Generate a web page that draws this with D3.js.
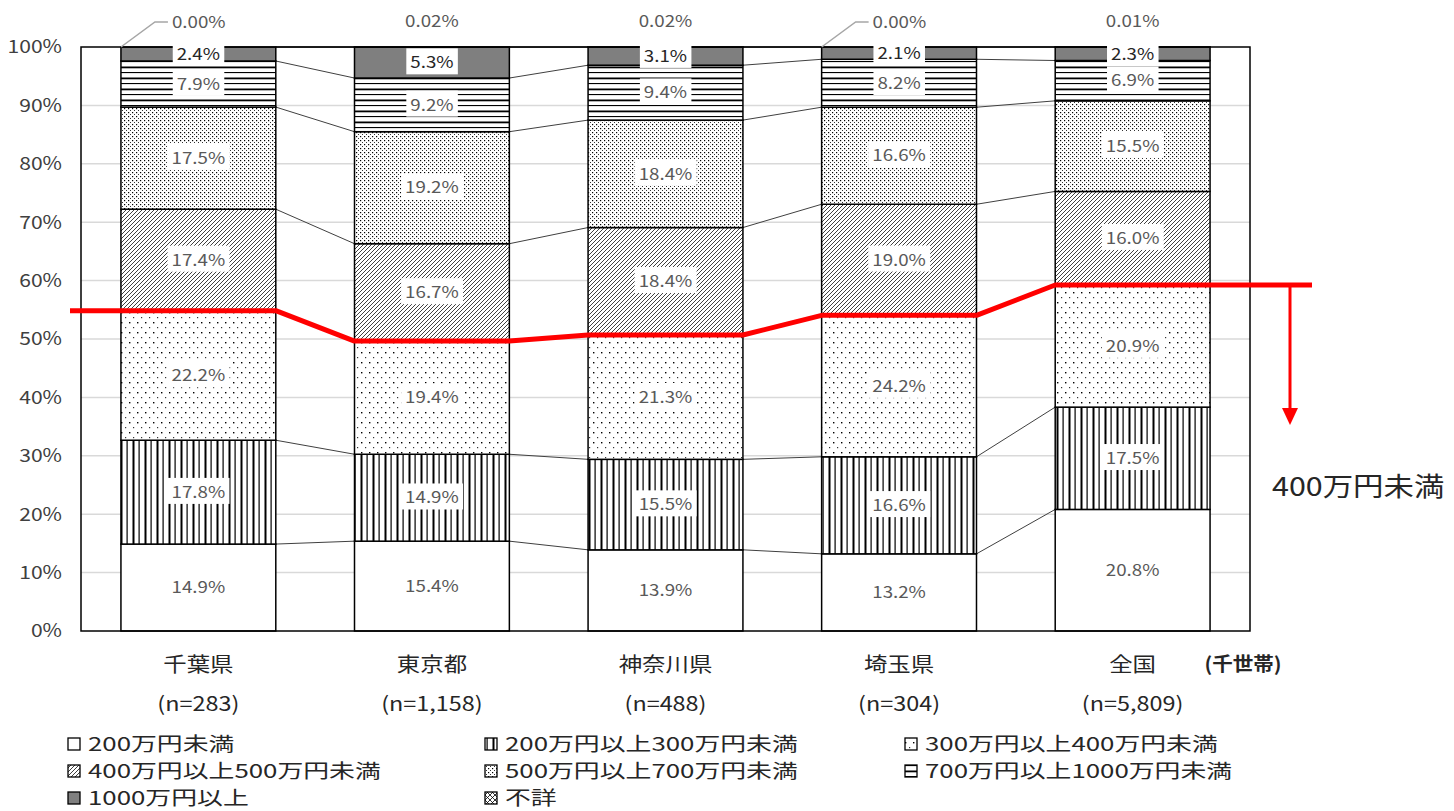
<!DOCTYPE html>
<html><head><meta charset="utf-8">
<script src="https://cdn.jsdelivr.net/npm/d3@7"></script>
<style>body{margin:0;background:#fff}svg text{font-family:"Noto Sans CJK JP","Noto Sans",sans-serif}</style>
</head><body>
<svg id="chart" width="1454" height="811"></svg>
<script>
const categories = ["千葉県","東京都","神奈川県","埼玉県","全国"];
const sampleSizes = ["(n=283)","(n=1,158)","(n=488)","(n=304)","(n=5,809)"];
const seriesNames = ["200万円未満","200万円以上300万円未満","300万円以上400万円未満","400万円以上500万円未満","500万円以上700万円未満","700万円以上1000万円未満","1000万円以上","不詳"];
const under200     = [14.9, 15.4, 13.9, 13.2, 20.8];
const from200to300 = [17.8, 14.9, 15.5, 16.6, 17.5];
const from300to400 = [22.2, 19.4, 21.3, 24.2, 20.9];
const from400to500 = [17.4, 16.7, 18.4, 19.0, 16.0];
const from500to700 = [17.5, 19.2, 18.4, 16.6, 15.5];
const from700to1000= [7.9, 9.2, 9.4, 8.2, 6.9];
const over1000     = [2.4, 5.3, 3.1, 2.1, 2.3];
const unknown      = [0.00, 0.02, 0.02, 0.00, 0.01];
const yTicks = [0,10,20,30,40,50,60,70,80,90,100];
const unitLabel = "(千世帯)";
const annotationText = "400万円未満";
const thresholdIndex = 3; // boundary below "400万円以上500万円未満"

const seriesValues = [under200, from200to300, from300to400, from400to500, from500to700, from700to1000, over1000, unknown];

const svg = d3.select("#chart");
const K = 1.17; // horizontal text stretch
function stretch(sel, k){ sel.each(function(){ const w=this.getComputedTextLength(); this.setAttribute("textLength", w*k); this.setAttribute("lengthAdjust","spacingAndGlyphs"); }); }

const x = d3.scaleBand().domain(categories).range([81,1250]).paddingInner(0.337).paddingOuter(0.171);
const y = d3.scaleLinear().domain([0,100]).range([631,47]);

// patterns
const defs = svg.append("defs");
function pat(id,w,h,draw){ const p=defs.append("pattern").attr("id",id).attr("patternUnits","userSpaceOnUse").attr("width",w).attr("height",h); p.append("rect").attr("width",w).attr("height",h).attr("fill","#fff"); draw(p); }
pat("pVert",12,12,p=>{ p.append("rect").attr("x",0.5).attr("y",0).attr("width",2).attr("height",12).attr("fill","#000"); p.append("rect").attr("x",6.5).attr("y",0).attr("width",1.2).attr("height",12).attr("fill","#000"); });
pat("pSparse",8,10,p=>{ p.append("rect").attr("x",1).attr("y",2).attr("width",1.4).attr("height",1.4).attr("fill","#000"); p.append("rect").attr("x",5).attr("y",7).attr("width",1.2).attr("height",1.2).attr("fill","#333"); });
pat("pDiag",4,4,p=>{ p.append("path").attr("d","M-1,1 L1,-1 M0,4 L4,0 M3,5 L5,3").attr("stroke","#000").attr("stroke-width",0.75); });
pat("pDense",4,4,p=>{ p.append("rect").attr("x",0).attr("y",0).attr("width",1.2).attr("height",1.2).attr("fill","#000"); p.append("rect").attr("x",2).attr("y",2).attr("width",1).attr("height",1).attr("fill","#333"); });
pat("pHoriz",12,11,p=>{ p.append("rect").attr("x",0).attr("y",0.5).attr("width",12).attr("height",1.8).attr("fill","#000"); p.append("rect").attr("x",0).attr("y",6).attr("width",12).attr("height",1.1).attr("fill","#000"); });
pat("pCross",5,5,p=>{ p.append("path").attr("d","M0,0 L5,5 M5,0 L0,5").attr("stroke","#000").attr("stroke-width",0.8); });
const fills = ["#fff","url(#pVert)","url(#pSparse)","url(#pDiag)","url(#pDense)","url(#pHoriz)","#7f7f7f","url(#pCross)"];

// gridlines
svg.append("g").selectAll("line").data(yTicks.filter(t=>t>0&&t<100)).join("line")
  .attr("x1",81).attr("x2",1250).attr("y1",d=>y(d)).attr("y2",d=>y(d)).attr("stroke","#d9d9d9").attr("stroke-width",1.5);

// stacked data (normalized like a 100% stacked chart)
const table = categories.map((c,i)=>{ const o={cat:c}; seriesNames.forEach((s,j)=>o[s]=seriesValues[j][i]); return o; });
const totals = categories.map((c,i)=>d3.sum(seriesValues,v=>v[i]));
const normTable = table.map((r,i)=>{ const o={cat:r.cat}; seriesNames.forEach(s=>o[s]=r[s]/totals[i]*100); return o; });
const stack = d3.stack().keys(seriesNames)(normTable);

// series lines
const serG = svg.append("g");
stack.forEach(layer=>{
  for(let i=0;i<categories.length-1;i++){
    serG.append("line").attr("x1",x(categories[i])+x.bandwidth()).attr("x2",x(categories[i+1]))
      .attr("y1",y(layer[i][1])).attr("y2",y(layer[i+1][1])).attr("stroke","#404040").attr("stroke-width",1);
  }
});

// bars
const barG = svg.append("g");
stack.forEach((layer,j)=>{
  barG.append("g").selectAll("rect").data(layer).join("rect")
    .attr("x",(d,i)=>x(categories[i])).attr("width",x.bandwidth())
    .attr("y",d=>y(d[1])).attr("height",d=>Math.max(0,y(d[0])-y(d[1])))
    .attr("fill",fills[j]).attr("stroke","#000").attr("stroke-width",1.5);
});

// frame
svg.append("rect").attr("x",81).attr("y",47).attr("width",1169).attr("height",584).attr("fill","none").attr("stroke","#000").attr("stroke-width",1.5);

// data labels
const labG = svg.append("g");
stack.forEach((layer,j)=>{
  if(j===7) return;
  layer.forEach((d,i)=>{
    const cx = x(categories[i])+x.bandwidth()/2;
    const cy = (y(d[0])+y(d[1]))/2;
    const t = labG.append("text").attr("x",cx).attr("y",cy).attr("dy","0.36em").attr("text-anchor","middle")
      .attr("font-size",16).attr("fill", j===6 ? "#262626" : "#595959").text(seriesValues[j][i].toFixed(1)+"%");
    stretch(t,K);
    const bb = t.node().getBBox();
    labG.insert("rect",()=>t.node()).attr("x",bb.x-4).attr("y",bb.y-1).attr("width",bb.width+8).attr("height",bb.height+2).attr("fill","#fff");
  });
});

// unknown labels (above bars)
unknown.forEach((v,i)=>{
  const left = x(categories[i]);
  if(v===0){
    svg.append("path").attr("d",`M${left},${y(100)} L${left+34},22 L${left+47},22`).attr("fill","none").attr("stroke","#a6a6a6").attr("stroke-width",1.5);
    stretch(svg.append("text").attr("x",left+51).attr("y",22).attr("dy","0.36em").attr("font-size",16).attr("fill","#595959").text(v.toFixed(2)+"%"),K);
  } else {
    stretch(svg.append("text").attr("x",left+x.bandwidth()/2).attr("y",21).attr("dy","0.36em").attr("text-anchor","middle").attr("font-size",16).attr("fill","#595959").text(v.toFixed(2)+"%"),K);
  }
});

// red threshold line
const thr = stack[thresholdIndex-1].map(d=>d[1]);
const pts = [[70,y(thr[0])]];
categories.forEach((c,i)=>{ pts.push([x(c),y(thr[i])]); pts.push([x(c)+x.bandwidth(),y(thr[i])]); });
pts.push([1312,y(thr[thr.length-1])]);
svg.append("path").attr("d",d3.line()(pts)).attr("fill","none").attr("stroke","#ff0000").attr("stroke-width",5).attr("stroke-linejoin","round");
const yLast = y(thr[thr.length-1]);
svg.append("line").attr("x1",1290).attr("x2",1290).attr("y1",yLast).attr("y2",412).attr("stroke","#ff0000").attr("stroke-width",3);
svg.append("path").attr("d","M1282,408 L1298,408 L1290,425 Z").attr("fill","#ff0000");
stretch(svg.append("text").attr("x",1272).attr("y",496).attr("font-size",26).attr("fill","#262626").text(annotationText),K);

// y axis labels
svg.append("g").selectAll("text").data(yTicks).join("text")
  .attr("x",62).attr("y",d=>y(d)).attr("dy","0.36em").attr("text-anchor","end").attr("font-size",18).attr("fill","#404040")
  .text(d=>d+"%").call(stretch,K);

// x labels
svg.append("g").selectAll("text").data(categories).join("text")
  .attr("x",d=>x(d)+x.bandwidth()/2).attr("y",672).attr("text-anchor","middle").attr("font-size",20).attr("fill","#262626").text(d=>d).call(stretch,K);
svg.append("g").selectAll("text").data(sampleSizes).join("text")
  .attr("x",(d,i)=>x(categories[i])+x.bandwidth()/2).attr("y",711).attr("text-anchor","middle").attr("font-size",20).attr("fill","#262626").text(d=>d).call(stretch,K);
stretch(svg.append("text").attr("x",1243).attr("y",671).attr("text-anchor","middle").attr("font-size",19).attr("font-weight","bold").attr("fill","#262626").text(unitLabel),1.08);

// legend
const legCols = [68,485,905], legRows = [744,771,798];
seriesNames.forEach((s,j)=>{
  const cx = legCols[j%3], cy = legRows[Math.floor(j/3)];
  svg.append("rect").attr("x",cx).attr("y",cy-6).attr("width",12).attr("height",12).attr("fill",fills[j]).attr("stroke","#000").attr("stroke-width",1.3);
  stretch(svg.append("text").attr("x",cx+20).attr("y",cy).attr("dy","0.36em").attr("font-size",19).attr("fill","#262626").text(s),1.36);
});
</script>
</body></html>
